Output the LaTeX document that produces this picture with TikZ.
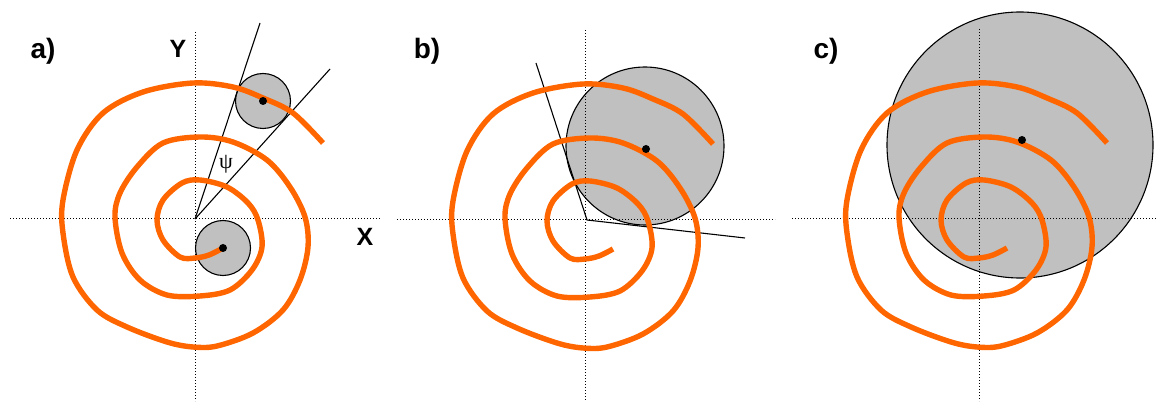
\documentclass[tikz,border=0pt]{standalone}
\usepackage{fontspec}
\setmainfont{Liberation Sans}
\newfontfamily\greekserif{Liberation Serif}
\begin{document}
\begin{tikzpicture}[x=1pt,y=-1pt,
  spiral/.style={line width=5.4pt,draw={rgb,255:red,255;green,102;blue,0},line cap=butt,line join=round},
  axis/.style={line width=1pt,dash pattern=on 1pt off 2pt},
  disc/.style={fill={rgb,255:red,192;green,192;blue,192},draw=black,line width=1.1pt},
  ray/.style={line width=1.1pt,draw=black},
  dotc/.style={fill=black},
  plabel/.style={font=\fontsize{28}{28}\selectfont\bfseries},
  alabel/.style={font=\fontsize{25}{25}\selectfont\bfseries}]
\useasboundingbox (0,0) rectangle (1156,403);
\newcommand{\spiralpath}{plot[smooth,tension=0.55] coordinates {
(28,29) (14,36) (0,39) (-15,38) (-32,21) (-38,1) (-32,-19) (-13,-36) (5,-39)
(32,-32) (53,-16) (63,1) (67,28) (57,51) (35,71) (5,77) (-28,76) (-55,61)
(-73,34) (-80,-2) (-75,-26) (-58,-52) (-32,-76) (5,-82) (38,-77) (72,-59)
(95,-32) (110,-2) (113,28) (105,61) (88,91) (58,114) (22,127) (-2,128)
(-28,123) (-68,108) (-98,91) (-122,58) (-132,14) (-132,-19) (-118,-69)
(-92,-106) (-52,-127) (-2,-136) (38,-132) (68,-121) (98,-106) (128,-76)}}
% ---------- panel a ----------
\node[plabel] (la) at (43,51) {a)};
\draw[disc] (223,248) circle[radius=27.5];
\draw[disc] (263,101) circle[radius=27.5];
\draw[axis] (10,219) -- (380,219);
\draw[axis] (195,32) -- (195,401);
\coordinate (oa) at (195,219);
\coordinate (ra1) at (260,23);
\coordinate (ra2) at (330,69);
\draw[ray] (oa) -- (ra1);
\draw[ray] (oa) -- (ra2);
\draw[spiral,shift={(195,219)}] \spiralpath;
\fill[dotc] (223,248) circle[radius=4];
\fill[dotc] (263,101) circle[radius=4];
\node[font=\greekserif\fontsize{22}{22}\selectfont] (psi) at (226,164) {ψ};
\node[alabel] (ly) at (178,49) {Y};
\node[alabel] (lx) at (365,237) {X};
% ---------- panel b ----------
\node[plabel] (lb) at (427,51) {b)};
\draw[disc] (645,146) circle[radius=79];
\draw[axis] (397,220) -- (775,220);
\draw[axis] (585,30) -- (585,401);
\coordinate (ob) at (587,220);
\coordinate (rb1) at (536,63);
\coordinate (rb2) at (745,238);
\draw[ray] (rb1) -- (ob) -- (rb2);
\draw[spiral,shift={(585,220)}] \spiralpath;
\fill[dotc] (646,149) circle[radius=4];
% ---------- panel c ----------
\node[plabel] (lc) at (826,51) {c)};
\draw[disc] (1020,145) circle[radius=133];
\draw[axis] (792,219) -- (1156,219);
\draw[axis] (979,29) -- (979,401);
\draw[spiral,shift={(979,219)}] \spiralpath;
\fill[dotc] (1022,140) circle[radius=4];
\end{tikzpicture}
\end{document}
